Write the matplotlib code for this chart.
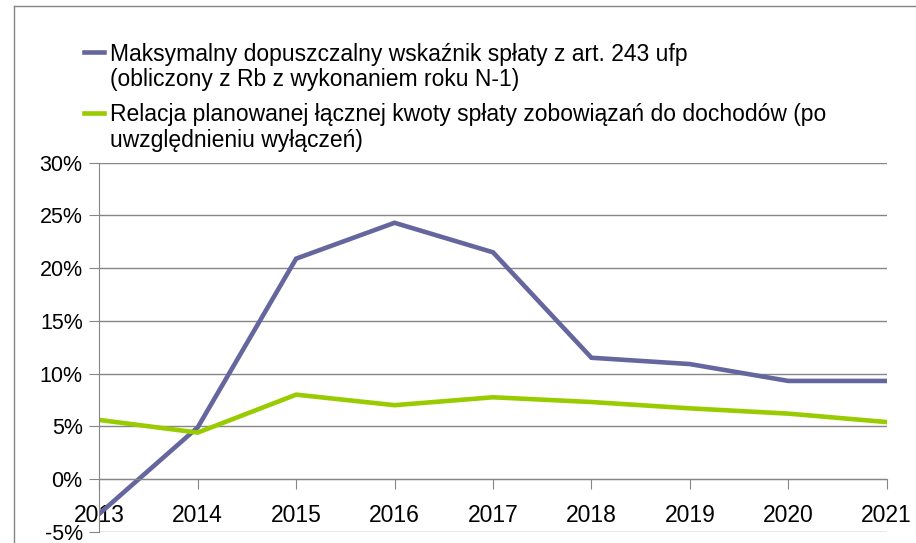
import matplotlib
matplotlib.use("Agg")
import matplotlib.pyplot as plt
from matplotlib.lines import Line2D
from matplotlib.ticker import FuncFormatter

years = [2013, 2014, 2015, 2016, 2017, 2018, 2019, 2020, 2021]
max_wskaznik = [-3.3, 4.9, 20.9, 24.3, 21.5, 11.5, 10.9, 9.3, 9.3]
relacja = [5.6, 4.4, 8.0, 7.0, 7.75, 7.3, 6.7, 6.2, 5.4]
labels = [
    "Maksymalny dopuszczalny wskaźnik spłaty z art. 243 ufp\n(obliczony z Rb z wykonaniem roku N-1)",
    "Relacja planowanej łącznej kwoty spłaty zobowiązań do dochodów (po\nuwzględnieniu wyłączeń)",
]
colors = ["#66669e", "#99cc00"]

plt.rcParams["font.family"] = ["Liberation Sans", "DejaVu Sans"]
fig = plt.figure(figsize=(9.16, 5.43), dpi=100)
ax = fig.add_axes([99.3 / 916, 1 - 531.7 / 543, (886.7 - 99.3) / 916, (531.7 - 162.7) / 543])

# outer chart frame (only top and left visible)
fig.add_artist(Line2D([14 / 916, 14 / 916], [0, 1 - 6 / 543], transform=fig.transFigure,
                      color="#868686", lw=1))
fig.add_artist(Line2D([14 / 916, 1], [1 - 6 / 543, 1 - 6 / 543], transform=fig.transFigure,
                      color="#868686", lw=1))

ax.plot(years, max_wskaznik, color=colors[0], lw=3.3, solid_joinstyle="miter")
ax.plot(years, relacja, color=colors[1], lw=3.3, solid_joinstyle="miter")

ax.set_xlim(2013, 2021)
ax.set_ylim(-5, 30)
ax.set_yticks(range(-5, 31, 5))
ax.yaxis.set_major_formatter(FuncFormatter(lambda v, p: "%d%%" % v))
ax.set_xticks(years)
ax.grid(axis="y", color="#868686", lw=1)
ax.set_axisbelow(True)

for s in ["top", "right"]:
    ax.spines[s].set_visible(False)
ax.spines["bottom"].set_position(("data", 0))
ax.spines["bottom"].set_color("#868686")
ax.spines["left"].set_color("#868686")
ax.tick_params(axis="x", length=7, color="#868686", labelsize=16.5, pad=11, direction="out")
ax.tick_params(axis="y", length=7, color="#868686", labelsize=15.5, pad=5)

# legend drawn above the plot area
legend_y = [52, 113]
for i in range(2):
    yf = 1 - legend_y[i] / 543
    fig.add_artist(Line2D([84 / 916, 104 / 916], [yf, yf], transform=fig.transFigure,
                          color=colors[i], lw=3.3))
    fig.text(110 / 916, 1 - (legend_y[i] - 9.5) / 543, labels[i], fontsize=16.5, va="top",
             ha="left", linespacing=1.12)

fig.savefig("out.png", dpi=100)
